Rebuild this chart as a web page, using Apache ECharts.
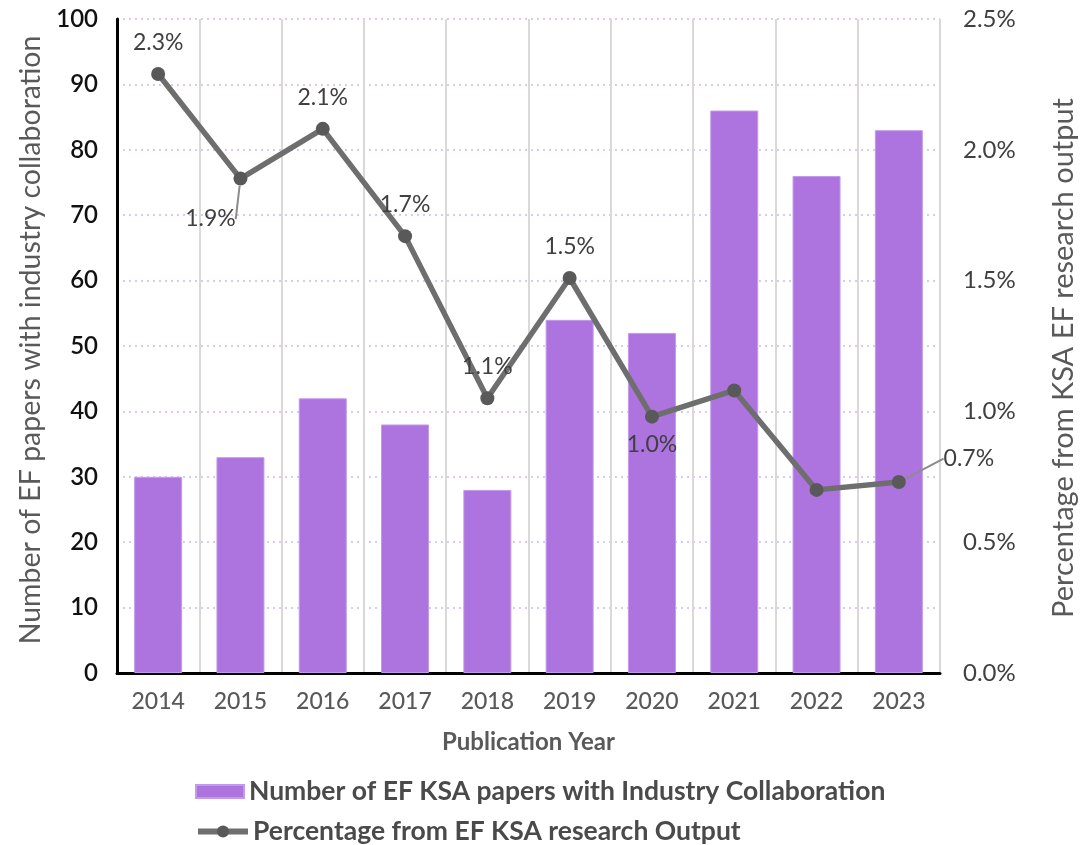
<!DOCTYPE html>
<html>
<head>
<meta charset="utf-8">
<script src="https://cdn.jsdelivr.net/npm/echarts@6/dist/echarts.min.js"></script>
<style>
  html, body { margin: 0; padding: 0; background: #fff; }
  #chart { width: 1088px; height: 845px; }
</style>
</head>
<body>
<div id="chart"></div>
<script>
const years = ["2014", "2015", "2016", "2017", "2018", "2019", "2020", "2021", "2022", "2023"]
const papers = [30, 33, 42, 38, 28, 54, 52, 86, 76, 83]
const percentages = [2.29, 1.89, 2.08, 1.67, 1.05, 1.51, 0.98, 1.08, 0.70, 0.73]
const shownLabels = [true, true, true, true, true, true, true, false, false, true]
const leftTicks = [0, 10, 20, 30, 40, 50, 60, 70, 80, 90, 100]
const rightTicks = [0, 0.5, 1.0, 1.5, 2.0, 2.5]

const barName = "Number of EF KSA papers with Industry Collaboration"
const lineName = "Percentage from EF KSA research Output"
const font = "Lato, 'Noto Sans', sans-serif"

const chart = echarts.init(document.getElementById("chart"))

// where each point label sits relative to its marker
const labelPlace = {
  1: { dx: -30, dy: 72, guide: true },
  6: { below: true },
  9: { dx: 70, dy: 8, guide: true },
}

const lineData = percentages.map((v, i) => {
  const place = labelPlace[i] || {}
  return {
    value: v,
    label: {
      show: shownLabels[i],
      position: place.below ? "bottom" : "top",
      distance: place.below ? 9 : 13,
    },
    labelLine: { show: !!place.guide },
  }
})

const legendText = { fontSize: 26.5, fontWeight: "bold", color: "#4a4a4a", fontFamily: font }

const option = {
  backgroundColor: "#fff",
  textStyle: { fontFamily: font },
  grid: { left: 117, right: 148, top: 19, bottom: 172 },
  legend: [
    {
      left: 190,
      top: 773,
      itemWidth: 48,
      itemHeight: 13,
      itemGap: 6,
      textStyle: legendText,
      data: [{ name: barName, icon: "rect" }],
    },
    {
      left: 190,
      top: 813,
      itemWidth: 50,
      itemHeight: 15,
      textStyle: legendText,
      data: [{ name: lineName, lineStyle: { width: 6, color: "#6e6e6e" } }],
    },
  ],
  xAxis: {
    type: "category",
    data: years,
    name: "Publication Year",
    nameLocation: "middle",
    nameGap: 57,
    nameTextStyle: { fontSize: 24, fontWeight: "bold", color: "#595959", fontFamily: font },
    axisLine: { lineStyle: { color: "#000", width: 3 } },
    axisTick: { show: false },
    axisLabel: { fontSize: 23, color: "#595959", margin: 17, fontWeight: 500 },
    splitLine: { show: true, lineStyle: { color: "#d9d9d9", width: 2 } },
  },
  yAxis: [
    {
      type: "value",
      min: leftTicks[0],
      max: leftTicks[leftTicks.length - 1],
      interval: leftTicks[1] - leftTicks[0],
      name: "Number of EF papers with industry collaboration",
      nameLocation: "middle",
      nameGap: 70,
      nameTextStyle: { fontSize: 28.5, color: "#595959", fontFamily: font, padding: [0, 0, 0, 12] },
      axisLine: { show: true, lineStyle: { color: "#000", width: 3 } },
      axisTick: { show: false },
      axisLabel: { fontSize: 24, color: "#111", fontWeight: 600, margin: 19 },
      splitLine: { lineStyle: { color: "#dcc8f2", width: 2, type: [2, 4] } },
    },
    {
      type: "value",
      min: rightTicks[0],
      max: rightTicks[rightTicks.length - 1],
      interval: rightTicks[1] - rightTicks[0],
      name: "Percentage from KSA EF research output",
      nameLocation: "middle",
      nameGap: 109,
      nameTextStyle: { fontSize: 29, color: "#595959", fontFamily: font, padding: [0, 24, 0, 0] },
      axisLine: { show: false },
      axisTick: { show: false },
      axisLabel: {
        fontSize: 24,
        color: "#404040",
        margin: 23,
        formatter: (v) => v.toFixed(1) + "%",
      },
      splitLine: { show: false },
    },
  ],
  series: [
    {
      name: barName,
      type: "bar",
      data: papers,
      barWidth: 48,
      itemStyle: { color: "#ad73df", borderColor: "#c29be8", borderWidth: 1 },
    },
    {
      name: lineName,
      type: "line",
      yAxisIndex: 1,
      data: lineData,
      symbol: "circle",
      symbolSize: 14,
      lineStyle: { color: "#6e6e6e", width: 5.5 },
      itemStyle: { color: "#595959" },
      label: {
        fontSize: 23,
        color: "#404040",
        fontFamily: font,
        formatter: (p) => p.value.toFixed(1) + "%",
      },
      labelLine: { lineStyle: { color: "#8c8c8c", width: 2 } },
      labelLayout: (params) => {
        const place = labelPlace[params.dataIndex]
        if (place && place.guide) {
          return { dx: place.dx, dy: place.dy }
        }
        return {}
      },
      z: 3,
    },
  ],
}

chart.setOption(option)
</script>
</body>
</html>
